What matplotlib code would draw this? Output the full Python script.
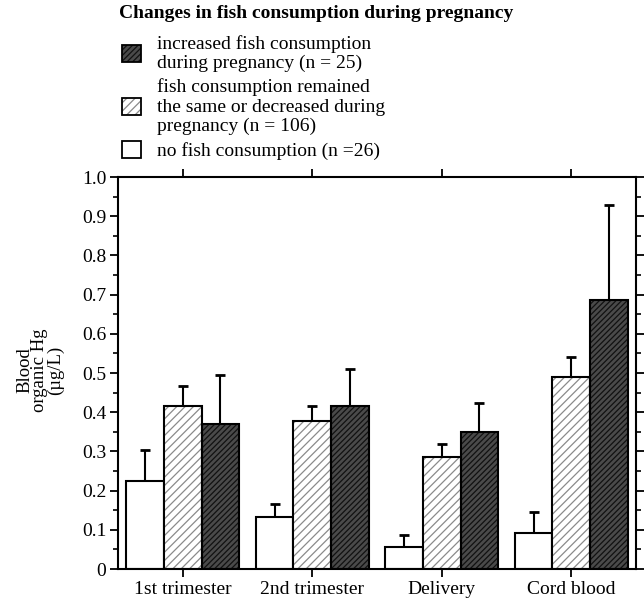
import numpy as np
import matplotlib
matplotlib.use("Agg")
import matplotlib.pyplot as plt
from matplotlib.patches import Patch

plt.rcParams['font.family'] = ['Liberation Serif', 'DejaVu Serif']
plt.rcParams['hatch.linewidth'] = 0.9

categories = ["1st trimester", "2nd trimester", "Delivery", "Cord blood"]

# means and upper SE for each consumption group
none_mean = [0.224, 0.133, 0.056, 0.092]
none_err = [0.079, 0.033, 0.031, 0.054]
same_mean = [0.416, 0.378, 0.286, 0.490]
same_err = [0.051, 0.038, 0.034, 0.050]
incr_mean = [0.370, 0.416, 0.350, 0.686]
incr_err = [0.125, 0.094, 0.074, 0.242]

legend_title = "Changes in fish consumption during pregnancy"
labels = ["increased fish consumption\nduring pregnancy (n = 25)",
          "fish consumption remained\nthe same or decreased during\npregnancy (n = 106)",
          "no fish consumption (n =26)"]

fs = 14
fig = plt.figure(figsize=(6.44, 5.98), dpi=100)
ax = fig.add_axes([118 / 644, 29 / 598, 518 / 644, 392 / 598])

x = np.arange(len(categories))
w = 0.29
lw = 1.5

# white bars
ax.bar(x - w, none_mean, w, color="white", edgecolor="black", linewidth=lw, zorder=2)
# light hatched bars: gray hatch, black outline on top
ax.bar(x, same_mean, w, color="white", edgecolor="#8a8a8a", hatch="////", linewidth=0, zorder=2)
ax.bar(x, same_mean, w, fill=False, edgecolor="black", linewidth=lw, zorder=3)
# dark hatched bars
ax.bar(x + w, incr_mean, w, color="#4a4a4a", edgecolor="#111111", hatch="//////", linewidth=0, zorder=2)
ax.bar(x + w, incr_mean, w, fill=False, edgecolor="black", linewidth=lw, zorder=3)

for off, m, e in [(-w, none_mean, none_err), (0, same_mean, same_err), (w, incr_mean, incr_err)]:
    ax.errorbar(x + off, m, yerr=[np.zeros(len(e)), e], fmt="none", ecolor="black",
                elinewidth=1.5, capsize=3.6, capthick=2, zorder=1)

ax.set_xlim(-0.5, 3.5)
ax.set_ylim(0, 1.0)
ax.set_yticks(np.arange(0, 1.01, 0.1))
ax.set_yticklabels(["0"] + ["%.1f" % v for v in np.arange(0.1, 1.01, 0.1)])
ax.set_yticks(np.arange(0.05, 1.0, 0.1), minor=True)
ax.set_xticks(x)
ax.set_xticklabels(categories)
ax.tick_params(axis="both", which="major", direction="out", length=6, width=1.3,
               labelsize=fs, top=True, right=True, pad=2.5)
ax.tick_params(axis="y", which="minor", direction="out", length=3.5, width=1.2,
               left=True, right=True)
ax.tick_params(axis="x", pad=3)
for s in ax.spines.values():
    s.set_linewidth(1.5)

fig.text(40 / 644, 1 - 370 / 598, "Blood\norganic Hg\n(µg/L)", rotation=90,
         ha="center", va="center", fontsize=13.5, linespacing=0.85)

# legend title placed on its own
fig.text(119 / 644, 1 - 13 / 598, legend_title, fontsize=fs, fontweight="bold",
         ha="left", va="center")

h_incr = (Patch(facecolor="#4a4a4a", edgecolor="#111111", hatch="//////", linewidth=0),
          Patch(fill=False, edgecolor="black", linewidth=1.3))
h_same = (Patch(facecolor="white", edgecolor="#8a8a8a", hatch="////", linewidth=0),
          Patch(fill=False, edgecolor="black", linewidth=1.3))
h_none = Patch(facecolor="white", edgecolor="black", linewidth=1.3)

leg = fig.legend([h_incr, h_same, h_none], labels, loc="upper left",
                 bbox_to_anchor=(118 / 644, 1 - 31 / 598), frameon=False,
                 fontsize=fs, handlelength=1.0, handleheight=1.0,
                 handletextpad=0.8, labelspacing=0.3, borderpad=0.2,
                 borderaxespad=0)
for t in leg.get_texts():
    t.set_linespacing(1.18)

fig.savefig("out.png", dpi=100)
